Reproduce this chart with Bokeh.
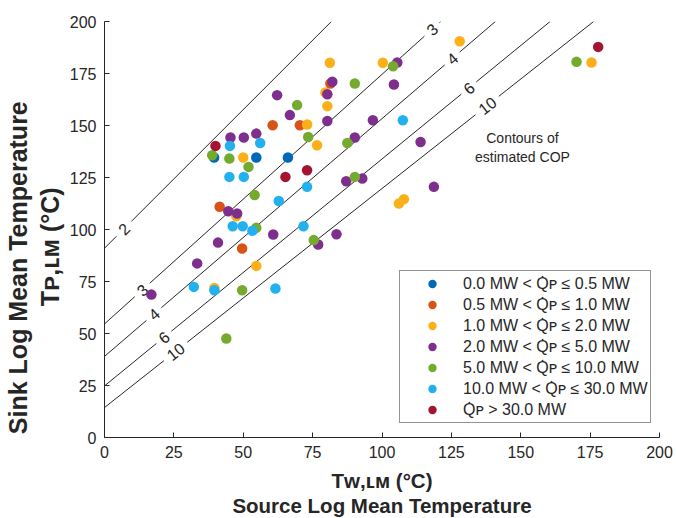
import math
from bokeh.plotting import figure
from bokeh.models import FixedTicker, Legend, LegendItem, Label, Range1d, LinearAxis
from bokeh.embed import file_html
from bokeh.resources import INLINE
from bokeh.core.properties import value

# ---------------- data ----------------
ticks = [0, 25, 50, 75, 100, 125, 150, 175, 200]

series_labels = [
    "0.0 MW < Q\u0307\u1d18 \u2264 0.5 MW",
    "0.5 MW < Q\u0307\u1d18 \u2264 1.0 MW",
    "1.0 MW < Q\u0307\u1d18 \u2264 2.0 MW",
    "2.0 MW < Q\u0307\u1d18 \u2264 5.0 MW",
    "5.0 MW < Q\u0307\u1d18 \u2264 10.0 MW",
    "10.0 MW < Q\u0307\u1d18 \u2264 30.0 MW",
    "Q\u0307\u1d18 > 30.0 MW",
]

tw_q1 = [39.5, 54.7, 66.1]
tp_q1 = [134.6, 134.6, 134.6]

tw_q2 = [60.6, 70.4, 41.5, 49.6, 81.4]
tp_q2 = [150.1, 150.1, 110.9, 90.9, 170.2]

tw_q3 = [50.0, 47.5, 54.7, 39.6, 81.2, 100.3, 79.6, 80.3, 73.0, 76.6, 107.9, 106.1, 128.0, 175.5]
tp_q3 = [134.6, 106.4, 82.5, 71.9, 180.2, 180.2, 165.9, 159.3, 150.5, 140.5, 114.6, 112.5, 190.5, 180.3]

tw_q4 = [45.4, 50.2, 54.7, 66.8, 44.6, 47.8, 60.8, 40.9, 33.4, 16.9, 62.2, 82.1, 80.3, 80.3,
         96.7, 90.2, 113.9, 105.5, 104.3, 87.1, 92.9, 118.7, 77.0, 83.6]
tp_q4 = [144.2, 144.2, 146.1, 155.0, 108.8, 107.7, 97.6, 93.7, 83.7, 68.7, 164.6, 171.0, 165.0, 152.2,
         152.5, 144.2, 142.1, 180.3, 169.7, 123.2, 124.5, 120.5, 92.8, 97.7]

tw_q5 = [69.4, 38.8, 45.0, 51.9, 54.1, 54.7, 49.6, 43.9, 104.0, 90.2, 73.4, 87.5, 90.2, 75.4, 170.1]
tp_q5 = [159.8, 135.7, 134.1, 130.1, 116.6, 100.8, 70.8, 47.6, 178.5, 170.2, 144.5, 141.6, 125.3, 94.9, 180.6]

tw_q6 = [45.2, 56.1, 45.0, 50.2, 62.8, 46.2, 49.8, 53.3, 32.2, 39.6, 61.6, 107.5, 73.0, 71.7]
tp_q6 = [140.2, 141.6, 125.3, 125.3, 113.7, 101.6, 101.6, 99.4, 72.4, 70.8, 71.6, 152.5, 120.5, 101.6]

tw_q7 = [40.0, 65.2, 73.0, 177.9]
tp_q7 = [140.2, 125.3, 128.5, 187.8]

# COP contour lines: Tp = intercept + slope * Tw
cop_levels = [2, 3, 4, 6, 10]
cop_slopes = [1.333, 1.200, 1.143, 1.091, 1.053]
cop_intercepts = [91.0, 54.6, 39.0, 24.8, 14.4]

# ---------------- style / layout ----------------
series_colors = ["#0068B8", "#D95319", "#FBB01A", "#7E2F8E", "#74AA2E", "#22B0EE", "#A2142F"]
label_positions = {2: [7.0], 3: [13.6, 118.0], 4: [17.8, 125.3], 6: [21.4, 131.3], 10: [25.6, 137.9]}

FW, FH = 555, 416
XMAX, YMAX = 200, 200
INK = "#262626"
FONT = "Liberation Sans"
NB = "\u00a0"

p = figure(frame_width=FW, frame_height=FH,
           min_border_left=104, min_border_right=17, min_border_top=21, min_border_bottom=81,
           x_range=Range1d(0, XMAX), y_range=Range1d(0, YMAX),
           output_backend="svg", toolbar_location=None,
           background_fill_color="white", border_fill_color="white")
p.outline_line_color = None
p.grid.visible = False

for ax in (p.xaxis[0], p.yaxis[0]):
    ax.ticker = FixedTicker(ticks=ticks)
    ax.major_tick_in = 5
    ax.major_tick_out = 0
    ax.minor_tick_line_color = None
    ax.axis_line_color = INK
    ax.major_tick_line_color = INK
    ax.major_label_text_font = FONT
    ax.major_label_text_font_size = "16px"
    ax.major_label_text_color = INK
    ax.axis_label_text_font = FONT
    ax.axis_label_text_font_style = "bold"
    ax.axis_label_text_color = INK
p.xaxis[0].major_label_standoff = 8
p.yaxis[0].major_label_standoff = 8

# y titles: the reference places them below the axis centre; trailing no-break spaces shift them
p.yaxis[0].axis_label = "T\u1d18,\u029f\u1d0d (\u00b0C)" + NB * 5
p.yaxis[0].axis_label_text_font_size = "25px"
p.yaxis[0].axis_label_standoff = 3

outer_y = LinearAxis(ticker=FixedTicker(ticks=[]), axis_line_color=None,
                     major_tick_line_color=None, minor_tick_line_color=None,
                     major_tick_in=0, major_tick_out=0, major_label_text_font_size="0px",
                     axis_label="Sink Log Mean Temperature" + NB * 11,
                     axis_label_text_font=FONT, axis_label_text_font_style="bold",
                     axis_label_text_font_size="25px", axis_label_text_color=INK,
                     axis_label_standoff=1)
p.add_layout(outer_y, "left")

p.xaxis[0].axis_label = "T\u1d21,\u029f\u1d0d (\u00b0C)\nSource Log Mean Temperature"
p.xaxis[0].axis_label_text_font_size = "20.5px"
p.xaxis[0].axis_label_text_line_height = 1.1
p.xaxis[0].axis_label_standoff = 8

# contour lines with gaps at labels
px_per_x = FW / XMAX
px_per_y = FH / YMAX
lab_x, lab_y, lab_t, lab_a = [], [], [], []
for lev, m, b in zip(cop_levels, cop_slopes, cop_intercepts):
    x_end = (YMAX - b) / m
    hw = 4.2 if lev >= 10 else 2.7
    xs = [0.0]
    for lx in label_positions[lev]:
        xs.append(min(lx - hw, x_end))
        xs.append(float("nan"))
        if lx + hw < x_end:
            xs.append(lx + hw)
        lab_x.append(lx)
        lab_y.append(b + m * lx)
        lab_t.append(str(lev))
        lab_a.append(math.atan(m * px_per_y / px_per_x))
    if not math.isnan(xs[-1]):
        xs.append(x_end)
    ys = [b + m * x if not math.isnan(x) else float("nan") for x in xs]
    p.line(xs, ys, line_color=INK, line_width=1)

p.text(x=lab_x, y=lab_y, text=lab_t, angle=lab_a, text_align="center", text_baseline="middle",
       text_font=value(FONT), text_font_size=value("16px"), text_color=INK)

# scatter series
series_x = [tw_q1, tw_q2, tw_q3, tw_q4, tw_q5, tw_q6, tw_q7]
series_y = [tp_q1, tp_q2, tp_q3, tp_q4, tp_q5, tp_q6, tp_q7]
items = []
for lab, col, xs, ys in zip(series_labels, series_colors, series_x, series_y):
    r = p.scatter(xs, ys, size=10.5, fill_color=col, line_color=None, marker="circle")
    items.append(LegendItem(label=lab, renderers=[r]))

legend = Legend(items=items, location=(295, 14))
legend.label_text_font = FONT
legend.label_text_font_size = "16px"
legend.label_text_color = INK
legend.border_line_color = INK
legend.border_line_width = 1
legend.background_fill_color = "white"
legend.background_fill_alpha = 1
legend.padding = 2
legend.spacing = 0
legend.glyph_height = 21
legend.glyph_width = 60
legend.label_height = 21
legend.label_standoff = 1
legend.margin = 0
p.add_layout(legend)

# annotation text
p.add_layout(Label(x=150.6, y=143.8, text="Contours of", text_align="center", text_baseline="middle",
                   text_font=FONT, text_font_size="14px", text_color=INK))
p.add_layout(Label(x=150.6, y=134.9, text="estimated COP", text_align="center", text_baseline="middle",
                   text_font=FONT, text_font_size="14px", text_color=INK))

open("out.html", "w").write(file_html(p, INLINE))
